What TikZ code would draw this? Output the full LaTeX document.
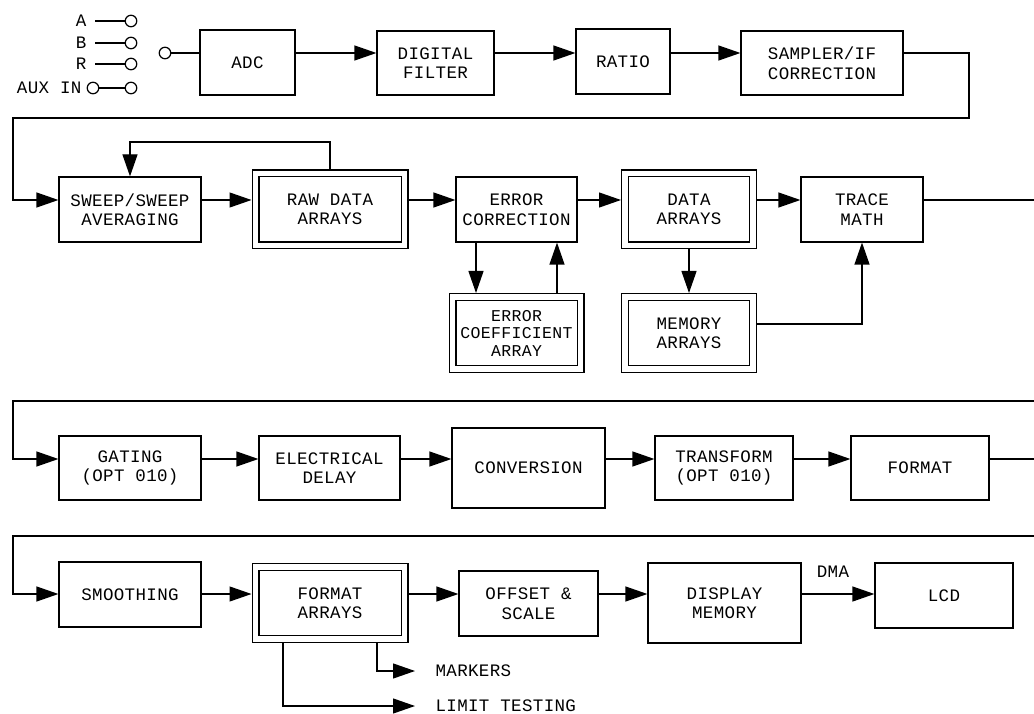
\documentclass[tikz,border=0pt]{standalone}
\usepackage{fontspec}
\usepackage{tikz}
\usetikzlibrary{arrows.meta, calc, positioning}
\newfontfamily\hpfont{Liberation Mono}[LetterSpace=2]

\begin{document}
\begin{tikzpicture}[x=1pt, y=-1pt, line width=1.2pt,
    font=\hpfont\fontsize{17.5}{19.5}\selectfont,
    blk/.style={draw, rectangle, inner sep=0pt, align=center},
    dblk/.style={blk, double, double distance=5.6pt, outer sep=4pt},
    port/.style={draw, circle, minimum size=11.5pt, inner sep=0pt},
    lbl/.style={inner xsep=8pt, inner ysep=0pt},
    arr/.style={-{Triangle[length=22pt, width=15pt]}}]

        \useasboundingbox (0,0) rectangle (1034,714);

        % Input selection
        \node[lbl, anchor=east] (la) at (95,21) {A};
        \node[lbl, anchor=east] (lb) at (95,43) {B};
        \node[lbl, anchor=east] (lr) at (95,64) {R};
        \node[lbl, anchor=east, inner xsep=6pt] (laux) at (88,88) {AUX IN};
        \node[port] (pa) at (131,21) {};
        \node[port] (pb) at (131,43) {};
        \node[port] (pr) at (131,64) {};
        \node[port] (paux) at (131,88) {};
        \node[port] (paux0) at (93,88) {};
        \node[port] (pin) at (165,53) {};
        \draw (la.east) -- (pa.west);
        \draw (lb.east) -- (pb.west);
        \draw (lr.east) -- (pr.west);
        \draw (paux0.east) -- (paux.west);

        % Row 1
        \coordinate (r1) at (0,53);
        \node[blk, minimum width=95pt, minimum height=65pt] (adc) at (247.5,62.5) {ADC};
        \node[blk, minimum width=117pt, minimum height=64pt] (filt) at (435.5,63) {DIGITAL\\FILTER};
        \node[blk, minimum width=94pt, minimum height=65pt] (ratio) at (623,61.5) {RATIO};
        \node[blk, minimum width=162pt, minimum height=64pt] (samp) at (822,63) {SAMPLER/IF\\CORRECTION};

        \draw (pin.east) -- (adc.west |- r1);
        \draw[arr] (adc.east |- r1) -- (filt.west |- r1);
        \draw[arr] (filt.east |- r1) -- (ratio.west |- r1);
        \draw[arr] (ratio.east |- r1) -- (samp.west |- r1);

        % Row 2
        \coordinate (r2) at (0,200);
        \node[blk, minimum width=142pt, minimum height=65pt] (sweep) at (130,209.5) {SWEEP/SWEEP\\AVERAGING};
        \node[dblk, minimum width=149pt, minimum height=72pt] (raw) at (330,209.5) {RAW DATA\\ARRAYS};
        \node[blk, minimum width=121pt, minimum height=65pt] (errc) at (516.5,209.5) {ERROR\\CORRECTION};
        \node[dblk, minimum width=128pt, minimum height=72pt, font=\hpfont\fontsize{16.5}{17.5}\selectfont] (coef) at (516.5,333) {ERROR\\COEFFICIENT\\ARRAY};
        \node[dblk, minimum width=128pt, minimum height=72pt] (data) at (689,209.5) {DATA\\ARRAYS};
        \node[dblk, minimum width=128pt, minimum height=72pt] (mem) at (689,333) {MEMORY\\ARRAYS};
        \node[blk, minimum width=122pt, minimum height=65pt] (trace) at (862,209.5) {TRACE\\MATH};

        \coordinate (t1) at (969,118);
        \coordinate (l1) at (13,118);
        \draw[arr] (samp.east |- r1) -| (t1) -- (l1) |- (sweep.west |- r2);

        \draw[arr] (sweep.east |- r2) -- (raw.west |- r2);
        \draw[arr] (raw.east |- r2) -- (errc.west |- r2);
        \draw[arr] (errc.east |- r2) -- (data.west |- r2);
        \draw[arr] (data.east |- r2) -- (trace.west |- r2);
        \coordinate (e2) at (1034,200);
        \draw (trace.east |- r2) -- (e2);

        % Feedback paths
        \coordinate (fb) at (130,142);
        \draw[arr] (raw.north) |- (fb) -- (sweep.north);
        \draw[arr] ([xshift=-40.5pt]errc.south) -- ([xshift=-40.5pt]coef.north);
        \draw[arr] ([xshift=40.5pt]coef.north) -- ([xshift=40.5pt]errc.south);
        \draw[arr] (data.south) -- (mem.north);
        \draw[arr] ([yshift=9pt]mem.east) -| (trace.south);

        % Row 3
        \coordinate (r3) at (0,459);
        \node[blk, minimum width=142pt, minimum height=64pt] (gate) at (130,468) {GATING\\(OPT 010)};
        \node[blk, minimum width=141pt, minimum height=64pt] (delay) at (329.5,468) {ELECTRICAL\\DELAY};
        \node[blk, minimum width=153pt, minimum height=80pt] (conv) at (528.5,468) {CONVERSION};
        \node[blk, minimum width=138pt, minimum height=64pt] (trans) at (724,468) {TRANSFORM\\(OPT 010)};
        \node[blk, minimum width=138pt, minimum height=64pt] (fmt) at (920,468) {FORMAT};

        \coordinate (e3) at (1034,401);
        \coordinate (l3) at (13,401);
        \draw[arr] (e3) -- (l3) |- (gate.west |- r3);
        \draw[arr] (gate.east |- r3) -- (delay.west |- r3);
        \draw[arr] (delay.east |- r3) -- (conv.west |- r3);
        \draw[arr] (conv.east |- r3) -- (trans.west |- r3);
        \draw[arr] (trans.east |- r3) -- (fmt.west |- r3);
        \coordinate (x3) at (1034,459);
        \draw (fmt.east |- r3) -- (x3);

        % Row 4
        \coordinate (r4) at (0,594);
        \node[blk, minimum width=142pt, minimum height=65pt] (smooth) at (130,594.5) {SMOOTHING};
        \node[dblk, minimum width=149pt, minimum height=72pt] (farr) at (330,603) {FORMAT\\ARRAYS};
        \node[blk, minimum width=139pt, minimum height=65pt] (offs) at (528.5,603.5) {OFFSET \&\\SCALE};
        \node[blk, minimum width=153pt, minimum height=80pt] (disp) at (724.5,603) {DISPLAY\\MEMORY};
        \node[blk, minimum width=138pt, minimum height=65pt] (lcd) at (944,595.5) {LCD};
        \node (dma) at (833,572) {DMA};

        \coordinate (e4) at (1034,536);
        \coordinate (l4) at (13,536);
        \draw[arr] (e4) -- (l4) |- (smooth.west |- r4);
        \draw[arr] (smooth.east |- r4) -- (farr.west |- r4);
        \draw[arr] (farr.east |- r4) -- (offs.west |- r4);
        \draw[arr] (offs.east |- r4) -- (disp.west |- r4);
        \draw[arr] (disp.east |- r4) -- (lcd.west |- r4);

        % Outputs of the format arrays
        \node[anchor=west, inner xsep=20pt] (mark) at (415,671) {MARKERS};
        \node[anchor=west, inner xsep=20pt] (limit) at (415,706) {LIMIT TESTING};
        \draw[arr] ([xshift=47pt]farr.south) |- (mark.west);
        \draw[arr] ([xshift=-47pt]farr.south) |- (limit.west);
  \end{tikzpicture}
\end{document}
